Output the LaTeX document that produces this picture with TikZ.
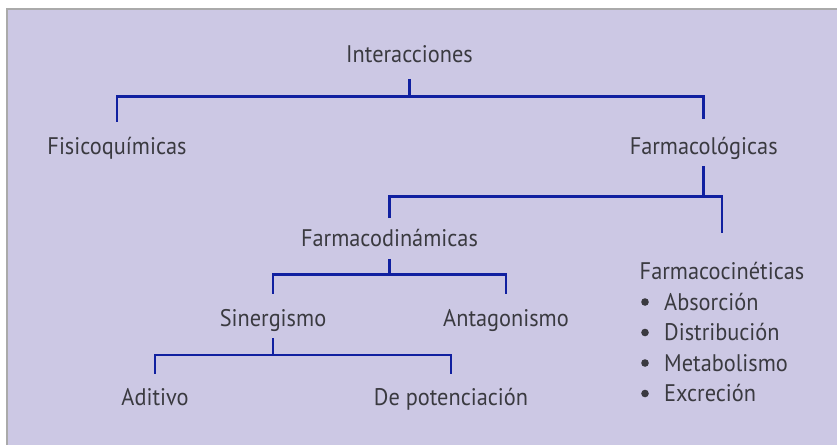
\documentclass[tikz,border=0pt]{standalone}
\usepackage{fontspec}
\setmainfont[FakeStretch=0.93]{PT Sans}
\usetikzlibrary{positioning}

\definecolor{bgfill}{RGB}{204,200,228}
\definecolor{framegray}{RGB}{170,170,170}
\definecolor{linkblue}{RGB}{16,32,160}
\definecolor{textgray}{RGB}{58,58,64}

\tikzset{
	lbl/.style={anchor=base, inner sep=0pt, text height=32pt, text depth=12pt,
		text=textgray, font=\fontsize{24}{30}\selectfont},
	item/.style={anchor=base west, inner sep=0pt, text=textgray,
		font=\fontsize{24}{30}\selectfont},
	link/.style={line width=2.7pt, linkblue, line join=miter}
}

\begin{document}
\begin{tikzpicture}[x=1pt, y=-1pt]

\def\width{837}
\def\height{445}

\path [use as bounding box] (0,0) rectangle (\width,\height);

% FRAME
\fill [white] (0,0) rectangle (\width,\height);
\fill [bgfill] (6,8) rectangle (\width,\height);
\draw [line width=1.5pt, framegray] (6.75,\height) -- (6.75,8.75) -- (\width,8.75);

% NODES
\node [lbl, text depth=16pt] (int) at (409.5,62.7) {Interacciones};
\node [lbl] (fis) at (117,154) {Fisicoquímicas};
\node [lbl, text height=34.7pt] (farm) at (703.7,154) {Farmacológicas};
\node [lbl, text height=28.4pt] (fdin) at (389.5,246.7) {Farmacodinámicas};
\node [lbl, text height=45.7pt] (fcin) at (722,279) {Farmacocinéticas};
\node [lbl] (sin) at (273,326) {Sinergismo};
\node [lbl] (ant) at (506,326) {Antagonismo};
\node [lbl, text height=31.7pt] (adi) at (155,405.7) {Aditivo};
\node [lbl, text height=31.7pt] (pot) at (451,405.7) {De potenciación};

% FARMACOCINETICAS LIST
\foreach \word [count=\i] in {Absorción, Distribución, Metabolismo, Excreción} {
	\node [item] (fcin-\i) at (664,{310+30.5*(\i-1)}) {\word};
	\fill [textgray] (fcin-\i.base west) ++(-19,-8) circle (3.8pt);
}

% BRANCHES
% #1 : parent
% #2 : left child
% #3 : right child
% #4 : y of the bar
\newcommand{\drawbranch}[4]{%
	\draw [link] (#1.south) -- (#1.south |- 0,#4);
	\draw [link] (#2.north) |- (#3.north |- 0,#4) -- (#3.north);
}
\drawbranch{int}{fis}{farm}{96.7}
\drawbranch{farm}{fdin}{fcin}{196.7}
\drawbranch{fdin}{sin}{ant}{274.3}
\drawbranch{sin}{adi}{pot}{355}

\end{tikzpicture}
\end{document}
